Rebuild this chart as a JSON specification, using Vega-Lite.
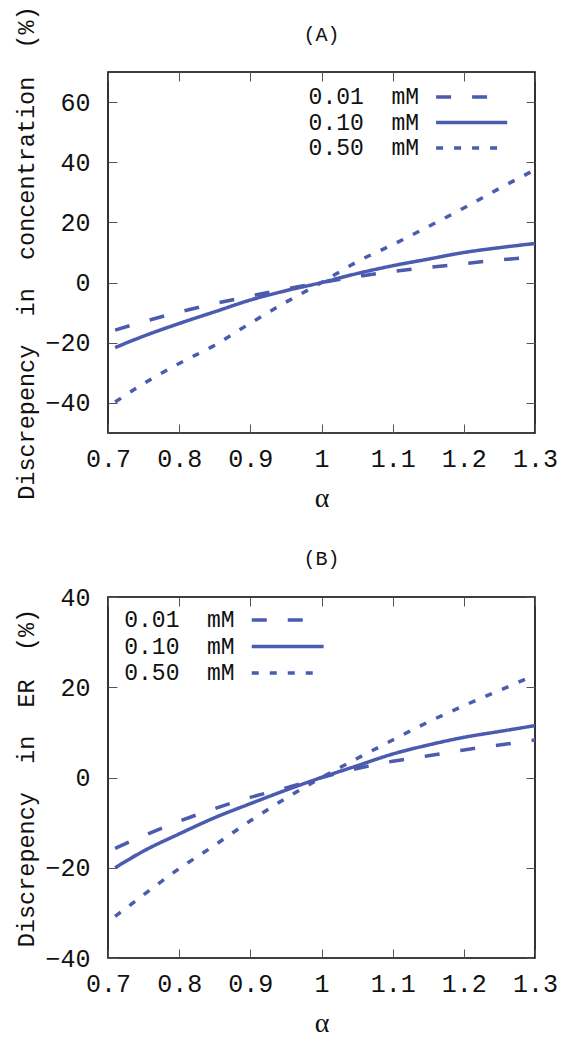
{
  "$schema": "https://vega.github.io/schema/vega-lite/v6.json",
  "padding": {"left": 14, "top": 4, "right": 5, "bottom": 5},
  "bounds": "flush",
  "spacing": 164,
  "config": {
    "view": {"stroke": "#000000", "strokeWidth": 1.6},
    "font": "Liberation Mono",
    "axis": {
      "labelFont": "Liberation Mono",
      "labelFontSize": 25,
      "labelColor": "#111111",
      "tickColor": "#555555",
      "tickWidth": 1,
      "tickSize": -9,
      "domain": false,
      "grid": false,
      "labelFlush": false,
      "labelOverlap": false,
      "titleFontWeight": "normal",
      "titleColor": "#111111"
    },
    "title": {"font": "Liberation Mono", "fontSize": 20, "fontWeight": "normal", "color": "#111111", "frame": "group"}
  },
  "datasets": {
    "curves": [
      {"p":"A","s":"0.01 mM","a":0.71,"v":-15.8},{"p":"A","s":"0.01 mM","a":0.75,"v":-13.0},{"p":"A","s":"0.01 mM","a":0.8,"v":-9.8},{"p":"A","s":"0.01 mM","a":0.85,"v":-7.0},{"p":"A","s":"0.01 mM","a":0.9,"v":-4.5},{"p":"A","s":"0.01 mM","a":0.95,"v":-2.1},{"p":"A","s":"0.01 mM","a":1.0,"v":0},{"p":"A","s":"0.01 mM","a":1.05,"v":2.0},{"p":"A","s":"0.01 mM","a":1.1,"v":3.7},{"p":"A","s":"0.01 mM","a":1.15,"v":5.0},{"p":"A","s":"0.01 mM","a":1.2,"v":6.3},{"p":"A","s":"0.01 mM","a":1.25,"v":7.5},{"p":"A","s":"0.01 mM","a":1.3,"v":8.5},
      {"p":"A","s":"0.10 mM","a":0.71,"v":-21.6},{"p":"A","s":"0.10 mM","a":0.75,"v":-17.8},{"p":"A","s":"0.10 mM","a":0.8,"v":-13.6},{"p":"A","s":"0.10 mM","a":0.85,"v":-9.7},{"p":"A","s":"0.10 mM","a":0.9,"v":-5.8},{"p":"A","s":"0.10 mM","a":0.95,"v":-2.7},{"p":"A","s":"0.10 mM","a":1.0,"v":0},{"p":"A","s":"0.10 mM","a":1.05,"v":3.0},{"p":"A","s":"0.10 mM","a":1.1,"v":5.6},{"p":"A","s":"0.10 mM","a":1.15,"v":7.8},{"p":"A","s":"0.10 mM","a":1.2,"v":10.0},{"p":"A","s":"0.10 mM","a":1.25,"v":11.6},{"p":"A","s":"0.10 mM","a":1.3,"v":13.0},
      {"p":"A","s":"0.50 mM","a":0.71,"v":-39.7},{"p":"A","s":"0.50 mM","a":0.75,"v":-33.6},{"p":"A","s":"0.50 mM","a":0.8,"v":-26.9},{"p":"A","s":"0.50 mM","a":0.85,"v":-20.8},{"p":"A","s":"0.50 mM","a":0.9,"v":-13.5},{"p":"A","s":"0.50 mM","a":0.95,"v":-6.5},{"p":"A","s":"0.50 mM","a":1.0,"v":0},{"p":"A","s":"0.50 mM","a":1.05,"v":6.9},{"p":"A","s":"0.50 mM","a":1.1,"v":12.6},{"p":"A","s":"0.50 mM","a":1.15,"v":18.6},{"p":"A","s":"0.50 mM","a":1.2,"v":24.8},{"p":"A","s":"0.50 mM","a":1.25,"v":31.3},{"p":"A","s":"0.50 mM","a":1.3,"v":37.5},
      {"p":"B","s":"0.01 mM","a":0.71,"v":-15.7},{"p":"B","s":"0.01 mM","a":0.75,"v":-12.9},{"p":"B","s":"0.01 mM","a":0.8,"v":-9.7},{"p":"B","s":"0.01 mM","a":0.85,"v":-6.9},{"p":"B","s":"0.01 mM","a":0.9,"v":-4.4},{"p":"B","s":"0.01 mM","a":0.95,"v":-2.3},{"p":"B","s":"0.01 mM","a":1.0,"v":0},{"p":"B","s":"0.01 mM","a":1.05,"v":2.0},{"p":"B","s":"0.01 mM","a":1.1,"v":3.6},{"p":"B","s":"0.01 mM","a":1.15,"v":4.8},{"p":"B","s":"0.01 mM","a":1.2,"v":6.1},{"p":"B","s":"0.01 mM","a":1.25,"v":7.2},{"p":"B","s":"0.01 mM","a":1.3,"v":8.3},
      {"p":"B","s":"0.10 mM","a":0.71,"v":-20.0},{"p":"B","s":"0.10 mM","a":0.75,"v":-16.3},{"p":"B","s":"0.10 mM","a":0.8,"v":-12.5},{"p":"B","s":"0.10 mM","a":0.85,"v":-8.9},{"p":"B","s":"0.10 mM","a":0.9,"v":-5.8},{"p":"B","s":"0.10 mM","a":0.95,"v":-2.8},{"p":"B","s":"0.10 mM","a":1.0,"v":0},{"p":"B","s":"0.10 mM","a":1.05,"v":2.6},{"p":"B","s":"0.10 mM","a":1.1,"v":5.2},{"p":"B","s":"0.10 mM","a":1.15,"v":7.2},{"p":"B","s":"0.10 mM","a":1.2,"v":8.9},{"p":"B","s":"0.10 mM","a":1.25,"v":10.2},{"p":"B","s":"0.10 mM","a":1.3,"v":11.5},
      {"p":"B","s":"0.50 mM","a":0.71,"v":-30.8},{"p":"B","s":"0.50 mM","a":0.75,"v":-26.0},{"p":"B","s":"0.50 mM","a":0.8,"v":-20.2},{"p":"B","s":"0.50 mM","a":0.85,"v":-15.0},{"p":"B","s":"0.50 mM","a":0.9,"v":-9.6},{"p":"B","s":"0.50 mM","a":0.95,"v":-4.6},{"p":"B","s":"0.50 mM","a":1.0,"v":0},{"p":"B","s":"0.50 mM","a":1.05,"v":4.2},{"p":"B","s":"0.50 mM","a":1.1,"v":8.3},{"p":"B","s":"0.50 mM","a":1.15,"v":12.3},{"p":"B","s":"0.50 mM","a":1.2,"v":15.9},{"p":"B","s":"0.50 mM","a":1.25,"v":19.3},{"p":"B","s":"0.50 mM","a":1.3,"v":22.7}
    ],
    "legend": [
      {"s":"0.01 mM","label":"0.01\u00a0\u00a0mM"},
      {"s":"0.10 mM","label":"0.10\u00a0\u00a0mM"},
      {"s":"0.50 mM","label":"0.50\u00a0\u00a0mM"}
    ]
  },
  "vconcat": [
    {
      "width": 427,
      "height": 361,
      "title": {"text": "(A)", "offset": -39},
      "layer": [
        {
          "data": {"name": "curves"},
          "transform": [{"filter": "datum.p === 'A'"}],
          "mark": {"type": "line", "strokeWidth": 3.5, "color": "#4a5bb0", "interpolate": "monotone", "strokeCap": "butt"},
          "encoding": {
            "x": {"field": "a", "type": "quantitative", "scale": {"domain": [0.7, 1.3], "nice": false, "zero": false},
                  "axis": {"orient": "bottom", "values": [0.7, 0.8, 0.9, 1, 1.1, 1.2, 1.3], "format": "~g", "labelPadding": 22, "title": "α", "titleFont": "Liberation Serif", "titleFontSize": 28, "titlePadding": 13}},
            "y": {"field": "v", "type": "quantitative", "scale": {"domain": [-50, 70], "nice": false, "zero": false},
                  "axis": {"orient": "left", "values": [-40, -20, 0, 20, 40, 60], "labelPadding": 27, "title": "Discrepency\u00a0\u00a0in\u00a0\u00a0concentration\u00a0\u00a0(%)", "titleFont": "Liberation Mono", "titleFontSize": 23.5, "titlePadding": 6}},
            "detail": {"field": "s"},
            "strokeDash": {"field": "s", "type": "nominal", "legend": null,
                           "scale": {"domain": ["0.01 mM", "0.10 mM", "0.50 mM"], "range": [[15, 21], [1, 0], [7, 11]]}}
          }
        },
        {
          "data": {"name": "curves"},
          "transform": [{"filter": "datum.p === 'A'"}],
          "mark": {"type": "line", "opacity": 0},
          "encoding": {
            "x": {"field": "a", "type": "quantitative", "scale": {"domain": [0.7, 1.3], "nice": false, "zero": false},
                  "axis": {"orient": "top", "values": [0.7, 0.8, 0.9, 1, 1.1, 1.2, 1.3], "labels": false, "title": null}},
            "y": {"field": "v", "type": "quantitative", "scale": {"domain": [-50, 70], "nice": false, "zero": false},
                  "axis": {"orient": "right", "values": [-40, -20, 0, 20, 40, 60], "labels": false, "title": null}},
            "detail": {"field": "s"}
          }
        },
        {
          "data": {"name": "legend"},
          "mark": {"type": "text", "align": "right", "baseline": "middle", "font": "Liberation Mono", "fontSize": 23, "color": "#111111"},
          "encoding": {
            "x": {"datum": 1.137, "axis": null},
            "y": {"field": "s", "type": "nominal", "axis": null, "scale": {"type": "point", "range": [25, 76], "padding": 0}},
            "text": {"field": "label"}
          }
        },
        {
          "data": {"name": "legend"},
          "mark": {"type": "rule", "strokeWidth": 3.5, "color": "#4a5bb0", "strokeCap": "butt"},
          "encoding": {
            "x": {"datum": 1.161, "axis": null},
            "x2": {"datum": 1.261},
            "y": {"field": "s", "type": "nominal", "axis": null, "scale": {"type": "point", "range": [25, 76], "padding": 0}},
            "strokeDash": {"field": "s", "type": "nominal", "legend": null,
                           "scale": {"domain": ["0.01 mM", "0.10 mM", "0.50 mM"], "range": [[15, 21], [1, 0], [7, 11]]}}
          }
        }
      ],
      "resolve": {"scale": {"y": "independent"}, "axis": {"x": "independent", "y": "independent"}}
    },
    {
      "width": 427,
      "height": 361,
      "title": {"text": "(B)", "offset": 16},
      "layer": [
        {
          "data": {"name": "curves"},
          "transform": [{"filter": "datum.p === 'B'"}],
          "mark": {"type": "line", "strokeWidth": 3.5, "color": "#4a5bb0", "interpolate": "monotone", "strokeCap": "butt"},
          "encoding": {
            "x": {"field": "a", "type": "quantitative", "scale": {"domain": [0.7, 1.3], "nice": false, "zero": false},
                  "axis": {"orient": "bottom", "values": [0.7, 0.8, 0.9, 1, 1.1, 1.2, 1.3], "format": "~g", "labelPadding": 22, "title": "α", "titleFont": "Liberation Serif", "titleFontSize": 28, "titlePadding": 13}},
            "y": {"field": "v", "type": "quantitative", "scale": {"domain": [-40, 40], "nice": false, "zero": false},
                  "axis": {"orient": "left", "values": [-40, -20, 0, 20, 40], "labelPadding": 27, "title": "Discrepency\u00a0\u00a0in\u00a0\u00a0ER\u00a0\u00a0(%)", "titleFont": "Liberation Mono", "titleFontSize": 23.5, "titlePadding": 6}},
            "detail": {"field": "s"},
            "strokeDash": {"field": "s", "type": "nominal", "legend": null,
                           "scale": {"domain": ["0.01 mM", "0.10 mM", "0.50 mM"], "range": [[15, 21], [1, 0], [7, 11]]}}
          }
        },
        {
          "data": {"name": "curves"},
          "transform": [{"filter": "datum.p === 'B'"}],
          "mark": {"type": "line", "opacity": 0},
          "encoding": {
            "x": {"field": "a", "type": "quantitative", "scale": {"domain": [0.7, 1.3], "nice": false, "zero": false},
                  "axis": {"orient": "top", "values": [0.7, 0.8, 0.9, 1, 1.1, 1.2, 1.3], "labels": false, "title": null}},
            "y": {"field": "v", "type": "quantitative", "scale": {"domain": [-40, 40], "nice": false, "zero": false},
                  "axis": {"orient": "right", "values": [-40, -20, 0, 20, 40], "labels": false, "title": null}},
            "detail": {"field": "s"}
          }
        },
        {
          "data": {"name": "legend"},
          "mark": {"type": "text", "align": "right", "baseline": "middle", "font": "Liberation Mono", "fontSize": 23, "color": "#111111"},
          "encoding": {
            "x": {"datum": 0.878, "axis": null},
            "y": {"field": "s", "type": "nominal", "axis": null, "scale": {"type": "point", "range": [23, 76], "padding": 0}},
            "text": {"field": "label"}
          }
        },
        {
          "data": {"name": "legend"},
          "mark": {"type": "rule", "strokeWidth": 3.5, "color": "#4a5bb0", "strokeCap": "butt"},
          "encoding": {
            "x": {"datum": 0.902, "axis": null},
            "x2": {"datum": 1.003},
            "y": {"field": "s", "type": "nominal", "axis": null, "scale": {"type": "point", "range": [23, 76], "padding": 0}},
            "strokeDash": {"field": "s", "type": "nominal", "legend": null,
                           "scale": {"domain": ["0.01 mM", "0.10 mM", "0.50 mM"], "range": [[15, 21], [1, 0], [7, 11]]}}
          }
        }
      ],
      "resolve": {"scale": {"y": "independent"}, "axis": {"x": "independent", "y": "independent"}}
    }
  ]
}
